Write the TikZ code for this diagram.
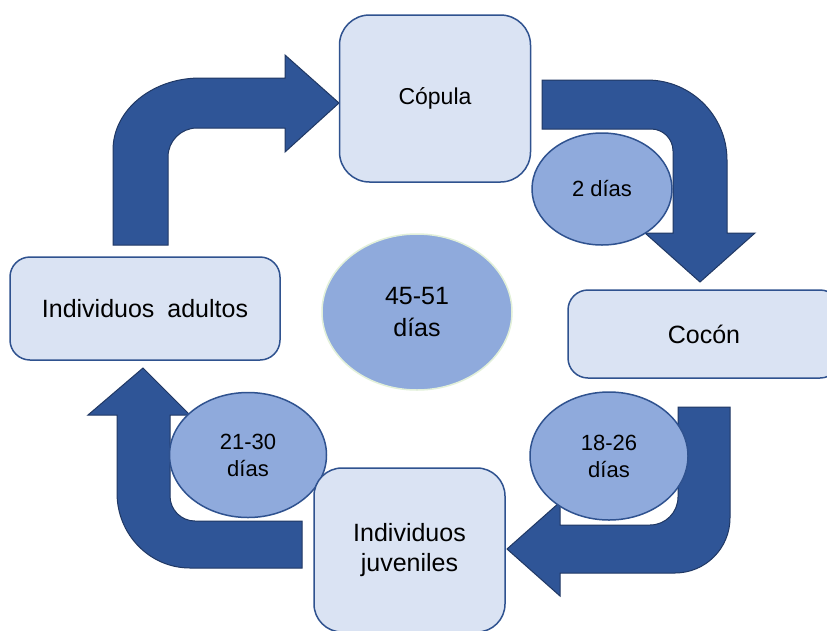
\documentclass[tikz,border=0pt]{standalone}
\usepackage{fontspec}
\setmainfont{Liberation Sans}
\usetikzlibrary{shapes.geometric}
\definecolor{boxfill}{HTML}{DAE3F3}
\definecolor{boxline}{HTML}{2F528F}
\definecolor{arrfill}{HTML}{2F5597}
\definecolor{arrline}{HTML}{203864}
\definecolor{ellfill}{HTML}{8FAADC}
\definecolor{ellrim}{HTML}{E2F0D9}
\begin{document}
\begin{tikzpicture}[x=1pt,y=-1pt,
  box/.style={draw=boxline,fill=boxfill,line width=1.5pt,rectangle,inner sep=0pt,align=center,font=\fontsize{25}{30}\selectfont},
  blockarrow/.style={fill=arrfill,draw=arrline,line width=1pt,line join=miter},
  period/.style={ellipse,draw=boxline,fill=ellfill,line width=1.5pt,inner sep=0pt,align=center,font=\fontsize{22}{27}\selectfont}]
\clip (0,0) rectangle (827,630);
\fill[white] (0,0) rectangle (827,630);

% block arrows
\draw[blockarrow] (113,245) -- (113,150) arc[start angle=180,end angle=270,x radius=87,y radius=72]
  -- (285,78) -- (285,55) -- (339,103) -- (285,152) -- (285,128) -- (197,128)
  arc[start angle=270,end angle=180,radius=29] -- (168,245) -- cycle;
\draw[blockarrow] (542,80) -- (647,80) arc[start angle=270,end angle=360,radius=80]
  -- (727,233) -- (755,233) -- (700,282) -- (645,233) -- (673,233) -- (673,151)
  arc[start angle=0,end angle=-90,radius=22] -- (542,129) -- cycle;
\draw[blockarrow] (678,407) -- (730,407) -- (730,518) arc[start angle=0,end angle=90,radius=55]
  -- (560,573) -- (560,596) -- (507,549) -- (560,502) -- (560,525) -- (650,525)
  arc[start angle=90,end angle=0,radius=28] -- cycle;
\draw[blockarrow] (170,415) -- (190,415) -- (143,368) -- (88,415) -- (117,415) -- (117,493)
  arc[start angle=180,end angle=90,x radius=73,y radius=75] -- (302,568) -- (302,521) -- (195,521)
  arc[start angle=90,end angle=180,radius=25] -- cycle;

% periods
\node[period,minimum width=140pt,minimum height=112pt] (d2) at (602,189) {2 días};
\node[period,minimum width=158pt,minimum height=128pt] (d1826) at (609,456) {18-26\\días};
\node[period,minimum width=157pt,minimum height=125pt] (d2130) at (248,455) {21-30\\días};
\node[period,draw=ellrim,minimum width=190pt,minimum height=156pt,font=\fontsize{25}{32}\selectfont] (total) at (417,312) {45-51\\días};

% stages
\node[box,rounded corners=30pt,minimum width=191pt,minimum height=167pt,font=\fontsize{23}{28}\selectfont] (copula) at (435,98.5) {Cópula};
\node[box,rounded corners=20pt,minimum width=272pt,minimum height=88pt] (cocon) at (704,334) {Cocón};
\node[box,rounded corners=28pt,minimum width=191pt,minimum height=164pt] (juv) at (409.5,550) {Individuos\\juveniles};
\node[box,rounded corners=20pt,minimum width=270pt,minimum height=103pt] (adult) at (145,308.5) {Individuos\hspace{6pt} adultos};
\end{tikzpicture}
\end{document}
